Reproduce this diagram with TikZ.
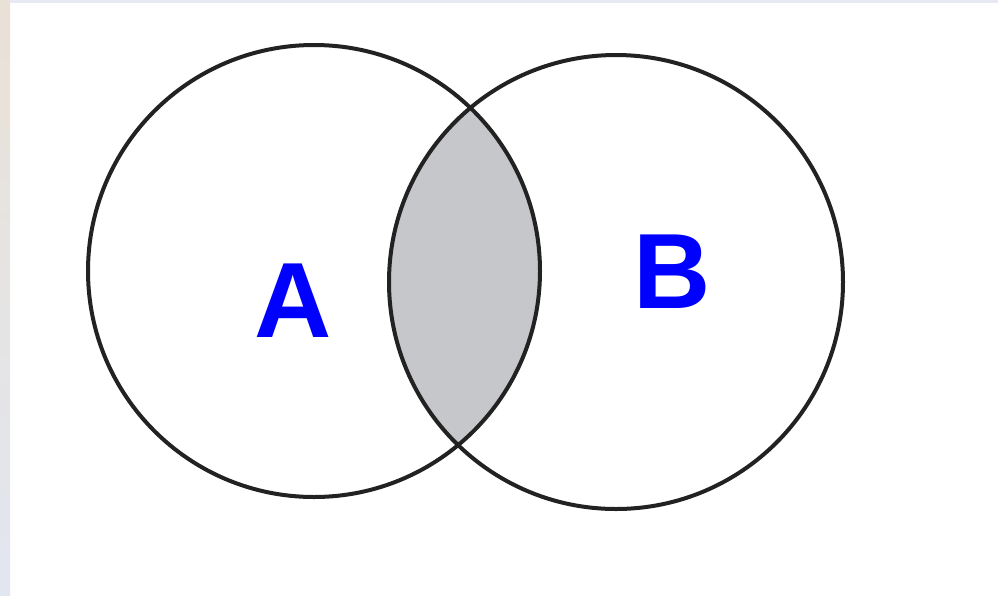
\documentclass[tikz,border=0pt]{standalone}
\usepackage{fontspec}
\setmainfont{Liberation Sans}
\definecolor{ringc}{RGB}{34,34,34}
\definecolor{lblc}{RGB}{0,0,255}
\definecolor{lensc}{RGB}{198,199,203}
\definecolor{stripa}{RGB}{233,225,214}
\definecolor{stripb}{RGB}{226,230,240}
\definecolor{topc}{RGB}{232,234,242}
\begin{document}
\begin{tikzpicture}[x=1pt,y=-1pt,
  ring/.style={draw=ringc, line width=4pt},
  lbl/.style={text=lblc, font=\fontsize{107}{107}\selectfont\bfseries, inner sep=0pt, anchor=center}]
\useasboundingbox (0,0) rectangle (998,595);
\fill[white] (0,0) rectangle (998,595);
\shade[top color=stripa, bottom color=stripb] (0,0) rectangle (10,595);
\fill[topc] (10,0) rectangle (998,3);
\coordinate (ca) at (314,271);
\coordinate (cb) at (616,282);
\begin{scope}
  \clip (ca) circle (226);
  \fill[lensc] (cb) circle (227);
\end{scope}
\draw[ring] (ca) circle (226);
\draw[ring] (cb) circle (227);
\node[lbl] (a) at (293,301) {A};
\node[lbl] (b) at (672,272) {B};
\end{tikzpicture}
\end{document}
